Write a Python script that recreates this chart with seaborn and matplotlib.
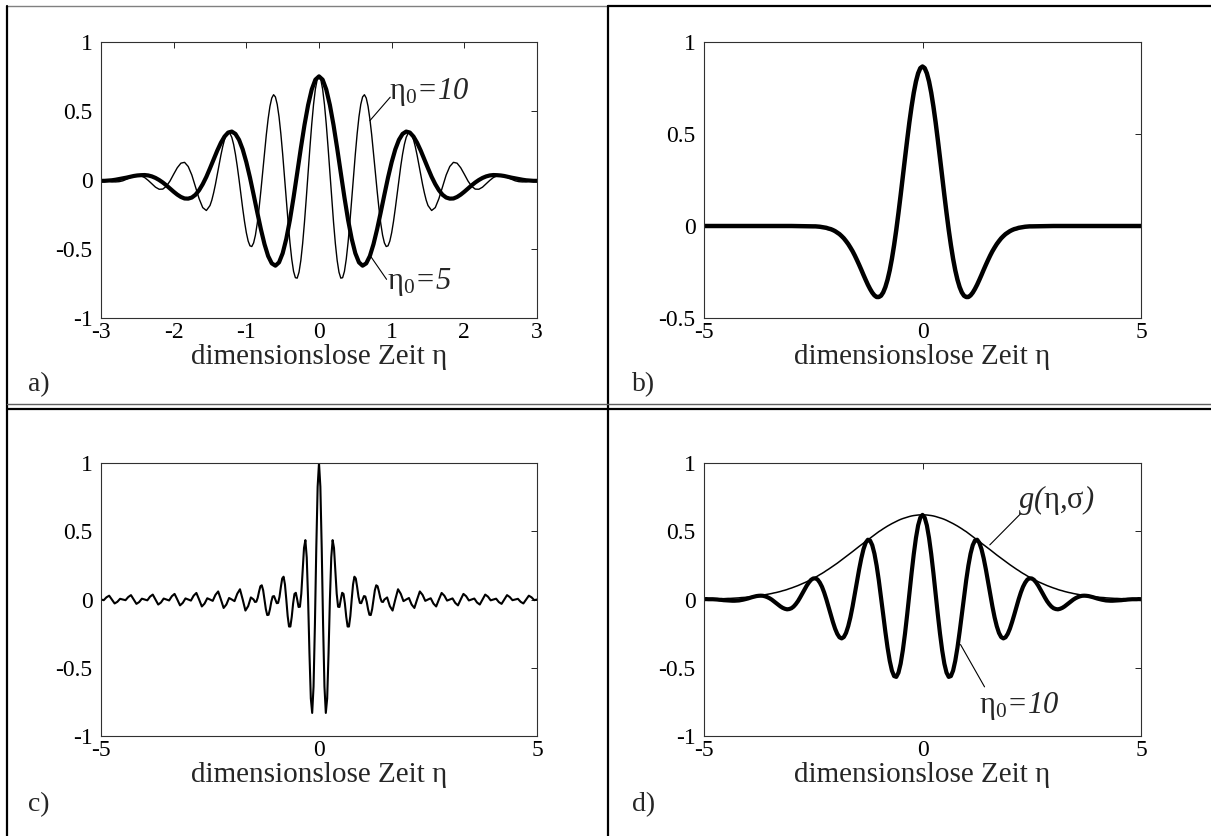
import numpy as np
import matplotlib
matplotlib.use("Agg")
import matplotlib.pyplot as plt
import seaborn as sns

# ---------------------------------------------------------------------------
# Wavelet samples (right half, eta >= 0); all four curves are even in eta
# ---------------------------------------------------------------------------

# a) Morlet wavelets
ETA_A = np.linspace(0.0, 3.0, 61)
MORLET_ETA0_5 = [
    0.751, 0.727, 0.656, 0.543, 0.398, 0.230, 0.051, -0.126, -0.289, -0.426,
    -0.531, -0.597, -0.621, -0.604, -0.551, -0.465, -0.356, -0.233, -0.106, 0.018,
    0.129, 0.222, 0.291, 0.334, 0.351, 0.344, 0.315, 0.270, 0.213, 0.149,
    0.085, 0.023, -0.030, -0.074, -0.107, -0.127, -0.135, -0.134, -0.123, -0.106,
    -0.085, -0.062, -0.039, -0.018, 0.000, 0.015, 0.026, 0.033, 0.036, 0.035,
    0.033, 0.029, 0.023, 0.017, 0.012, 0.007, 0.002, -0.002, -0.004, -0.006, -0.006,
]
# the faster wavelet is sampled twice as densely up to eta = 1.5
ETA_A_FINE = np.r_[np.linspace(0.0, 1.5, 61), np.linspace(1.55, 3.0, 30)]
MORLET_ETA0_10 = [
    0.751, 0.727, 0.658, 0.548, 0.404, 0.235, 0.053, -0.132, -0.306, -0.460,
    -0.583, -0.668, -0.711, -0.708, -0.662, -0.574, -0.453, -0.306, -0.143, 0.025,
    0.188, 0.335, 0.458, 0.548, 0.602, 0.618, 0.594, 0.534, 0.443, 0.328,
    0.197, 0.058, -0.079, -0.206, -0.315, -0.400, -0.456, -0.482, -0.477, -0.442,
    -0.382, -0.301, -0.206, -0.103, 0.002, 0.100, 0.187, 0.258, 0.309, 0.337,
    0.343, 0.328, 0.293, 0.242, 0.180, 0.110, 0.039, -0.031, -0.093, -0.146,
    -0.185,
    -0.221, -0.200, -0.135, -0.049, 0.036, 0.098, 0.128, 0.122, 0.089, 0.042,
    -0.007, -0.045, -0.066, -0.067, -0.052, -0.028, -0.003, 0.018, 0.030, 0.033,
    0.027, 0.017, 0.005, -0.006, -0.012, -0.014, -0.013, -0.008, -0.003, 0.001,
]

# b) Mexican hat, eta = 0 ... 2.5 in steps of 0.05, then the flat tail
ETA_B = np.r_[np.linspace(0.0, 2.5, 51), [3.0, 4.0, 5.0]]
MEXICAN_HAT = [
    0.867, 0.858, 0.830, 0.785, 0.724, 0.649, 0.564, 0.469, 0.370, 0.269,
    0.168, 0.071, -0.021, -0.104, -0.178, -0.241, -0.292, -0.332, -0.361, -0.379,
    -0.386, -0.386, -0.377, -0.362, -0.342, -0.319, -0.293, -0.266, -0.238, -0.211,
    -0.185, -0.160, -0.137, -0.117, -0.098, -0.082, -0.067, -0.055, -0.044, -0.036,
    -0.028, -0.022, -0.017, -0.014, -0.010, -0.008, -0.006, -0.004, -0.003, -0.002,
    -0.002, 0.000, 0.000, 0.000,
]

# c) Shannon wavelet, eta = k/32 (fine near the centre, coarser further out)
ETA_C = np.r_[np.arange(0, 49), np.arange(50, 161, 2)] / 32.0
SHANNON = [
    1.000, 0.826, 0.373, -0.184, -0.637, -0.831, -0.725, -0.396, 0.000, 0.308,
    0.435, 0.378, 0.212, 0.042, -0.053, -0.055, 0.000, 0.049, 0.041, -0.029,
    -0.127, -0.198, -0.198, -0.121, 0.000, 0.111, 0.167, 0.154, 0.091, 0.019,
    -0.025, -0.027, 0.000, 0.025, 0.022, -0.016, -0.071, -0.112, -0.114, -0.071,
    0.000, 0.068, 0.104, 0.097, 0.058, 0.012, -0.016, -0.018, 0.000,
    0.015, -0.049, -0.081, 0.000, 0.075, 0.042, -0.012, 0.000,
    0.011, -0.037, -0.062, 0.000, 0.059, 0.034, -0.010, 0.000,
    0.009, -0.030, -0.051, 0.000, 0.048, 0.028, -0.008, 0.000,
    0.008, -0.025, -0.043, 0.000, 0.041, 0.024, -0.007, 0.000,
    0.007, -0.022, -0.037, 0.000, 0.036, 0.021, -0.006, 0.000,
    0.006, -0.019, -0.032, 0.000, 0.032, 0.018, -0.005, 0.000,
    0.005, -0.017, -0.029, 0.000, 0.028, 0.016, -0.005, 0.000,
]

# d) Morlet wavelet with its Gaussian window g(eta, sigma), eta = 0 ... 5
ETA_D = np.linspace(0.0, 5.0, 101)
MORLET_D = [
    0.620, 0.600, 0.543, 0.451, 0.332, 0.193, 0.043, -0.108, -0.249, -0.372,
    -0.470, -0.536, -0.567, -0.561, -0.521, -0.449, -0.352, -0.236, -0.109, 0.019,
    0.141, 0.249, 0.336, 0.398, 0.432, 0.438, 0.416, 0.369, 0.302, 0.221,
    0.130, 0.038, -0.051, -0.131, -0.196, -0.245, -0.275, -0.285, -0.277, -0.252,
    -0.214, -0.165, -0.111, -0.054, 0.001, 0.051, 0.093, 0.124, 0.146, 0.155,
    0.154, 0.144, 0.125, 0.101, 0.073, 0.044, 0.015, -0.012, -0.034, -0.052,
    -0.064, -0.070, -0.072, -0.068, -0.061, -0.051, -0.039, -0.026, -0.013, -0.001,
    0.009, 0.017, 0.023, 0.027, 0.028, 0.027, 0.025, 0.021, 0.017, 0.012,
    0.007, 0.003, -0.001, -0.004, -0.007, -0.008, -0.009, -0.009, -0.008, -0.007,
    -0.006, -0.005, -0.003, -0.002, 0.000, 0.001, 0.002, 0.002, 0.002, 0.003, 0.002,
]
GAUSS_D = [
    0.620, 0.620, 0.619, 0.617, 0.615, 0.612, 0.608, 0.603, 0.598, 0.593,
    0.587, 0.580, 0.572, 0.564, 0.556, 0.547, 0.538, 0.528, 0.518, 0.507,
    0.497, 0.485, 0.474, 0.462, 0.450, 0.438, 0.426, 0.414, 0.401, 0.389,
    0.376, 0.364, 0.351, 0.339, 0.326, 0.314, 0.302, 0.290, 0.278, 0.266,
    0.255, 0.244, 0.233, 0.222, 0.212, 0.201, 0.191, 0.182, 0.172, 0.163,
    0.155, 0.146, 0.138, 0.130, 0.123, 0.116, 0.109, 0.102, 0.096, 0.090,
    0.084, 0.079, 0.073, 0.068, 0.064, 0.059, 0.055, 0.051, 0.048, 0.044,
    0.041, 0.038, 0.035, 0.032, 0.030, 0.027, 0.025, 0.023, 0.021, 0.019,
    0.018, 0.016, 0.015, 0.014, 0.012, 0.011, 0.010, 0.009, 0.008, 0.008,
    0.007, 0.006, 0.006, 0.005, 0.005, 0.004, 0.004, 0.003, 0.003, 0.003, 0.002,
]

# Ticks and texts
XTICKS_A = [-3, -2, -1, 0, 1, 2, 3]
XTICKS_WIDE = [-5, 0, 5]
YTICKS_FULL = [-1, -0.5, 0, 0.5, 1]
YTICKS_B = [-0.5, 0, 0.5, 1]
XLABEL = "dimensionslose Zeit η"
PANEL_TAGS = ["a)", "b)", "c)", "d)"]


def tick_text(v):
    return "0" if v == 0 else ("%g" % v)


def mirrored(eta, vals):
    eta = np.asarray(eta, float)
    vals = np.asarray(vals, float)
    return np.concatenate([-eta[:0:-1], eta]), np.concatenate([vals[:0:-1], vals])


# ---------------------------------------------------------------------------
sns.set_theme(style="white")
plt.rcParams["font.family"] = ["Liberation Serif", "DejaVu Serif"]
plt.rcParams["mathtext.fontset"] = "custom"
plt.rcParams["mathtext.rm"] = "Liberation Serif"
plt.rcParams["mathtext.it"] = "Liberation Serif:italic"
plt.rcParams["mathtext.bf"] = "Liberation Serif:bold"
plt.rcParams["axes.unicode_minus"] = False

W, H = 1211, 836
fig = plt.figure(figsize=(W / 100, H / 100), dpi=100, facecolor="white")

# table-like cell borders, drawn in pixel coordinates
frame = fig.add_axes([0, 0, 1, 1])
frame.set_xlim(0, W)
frame.set_ylim(H, 0)
frame.axis("off")
frame.plot([7, 608], [6, 6], color="#808080", lw=1.0)
frame.plot([608, W], [6, 6], color="black", lw=1.6)
frame.plot([7, 7], [6, 836], color="black", lw=1.6)
frame.plot([608, 608], [6, 836], color="black", lw=1.6)
frame.plot([7, W], [404, 404], color="#606060", lw=1.0)
frame.plot([7, W], [409, 409], color="black", lw=1.6)

tag_pos = [(28, 385), (632, 385), (28, 805), (632, 805)]
for tag, (tx, ty) in zip(PANEL_TAGS, tag_pos):
    frame.text(tx, ty, tag, fontsize=20, ha="left", va="center")


def make_axes(left, top, right, bottom):
    return fig.add_axes([left / W, 1 - bottom / H, (right - left) / W, (bottom - top) / H])


def style_axes(ax, xlim, xticks, ylim, yticks, bottom_px, top_px):
    ax.set_xlim(*xlim)
    ax.set_ylim(*ylim)
    ax.set_xticks(xticks)
    ax.set_xticklabels([tick_text(v) for v in xticks])
    ax.set_yticks(yticks)
    ax.set_yticklabels([tick_text(v) for v in yticks])
    ax.tick_params(direction="in", length=4, width=0.6, top=True, right=True,
                   labelsize=17, pad=3, colors="black")
    ax.tick_params(axis="y", pad=6)
    for sp in ax.spines.values():
        sp.set_linewidth(0.8)
        sp.set_color("#303030")
        sp.set_visible(True)
    ax.set_facecolor("white")
    ax.set_xlabel(XLABEL, fontsize=21)
    ax.xaxis.label.set_va("center")
    h = bottom_px - top_px
    ax.xaxis.set_label_coords(0.5, -39.0 / h)


def line(ax, x, y, lw):
    sns.lineplot(x=x, y=y, ax=ax, color="black", linewidth=lw,
                 estimator=None, sort=False, legend=False)


# a) -----------------------------------------------------------------------
axa = make_axes(101, 42, 537, 318)
xa10, ya10 = mirrored(ETA_A_FINE, MORLET_ETA0_10)
xa5, ya5 = mirrored(ETA_A, MORLET_ETA0_5)
line(axa, xa10, ya10, 1.0)
line(axa, xa5, ya5, 3.0)
style_axes(axa, (-3, 3), XTICKS_A, (-1, 1), YTICKS_FULL, 318, 42)
axa.plot([0.70, 0.98], [0.43, 0.60], color="black", lw=0.8)
axa.text(0.97, 0.64, r"$\mathrm{\eta}_{\mathit{0}}$=10", fontsize=22,
         fontstyle="italic", ha="left", va="center")
axa.plot([0.72, 0.93], [-0.56, -0.72], color="black", lw=0.8)
axa.text(0.94, -0.74, r"$\mathrm{\eta}_{\mathit{0}}$=5", fontsize=22,
         fontstyle="italic", ha="left", va="center")

# b) -----------------------------------------------------------------------
axb = make_axes(704, 42, 1141, 318)
xb, yb = mirrored(ETA_B, MEXICAN_HAT)
line(axb, xb, yb, 3.2)
style_axes(axb, (-5, 5), XTICKS_WIDE, (-0.5, 1), YTICKS_B, 318, 42)

# c) -----------------------------------------------------------------------
axc = make_axes(101, 463, 537, 736)
xc, yc = mirrored(ETA_C, SHANNON)
line(axc, xc, yc, 1.5)
style_axes(axc, (-5, 5), XTICKS_WIDE, (-1, 1), YTICKS_FULL, 736, 463)

# d) -----------------------------------------------------------------------
axd = make_axes(704, 463, 1141, 736)
xd, yd = mirrored(ETA_D, MORLET_D)
_, gd = mirrored(ETA_D, GAUSS_D)
line(axd, xd, gd, 1.1)
line(axd, xd, yd, 3.0)
style_axes(axd, (-5, 5), XTICKS_WIDE, (-1, 1), YTICKS_FULL, 736, 463)
axd.plot([1.54, 2.25], [0.40, 0.63], color="black", lw=0.8)
axd.text(2.18, 0.73, r"g($\mathrm{\eta}$,$\mathrm{\sigma}$)", fontsize=22,
         fontstyle="italic", ha="left", va="center")
axd.plot([0.87, 1.42], [-0.33, -0.64], color="black", lw=0.8)
axd.text(1.29, -0.78, r"$\mathrm{\eta}_{\mathit{0}}$=10", fontsize=22,
         fontstyle="italic", ha="left", va="center")

fig.savefig("out.png", dpi=100, facecolor="white")
